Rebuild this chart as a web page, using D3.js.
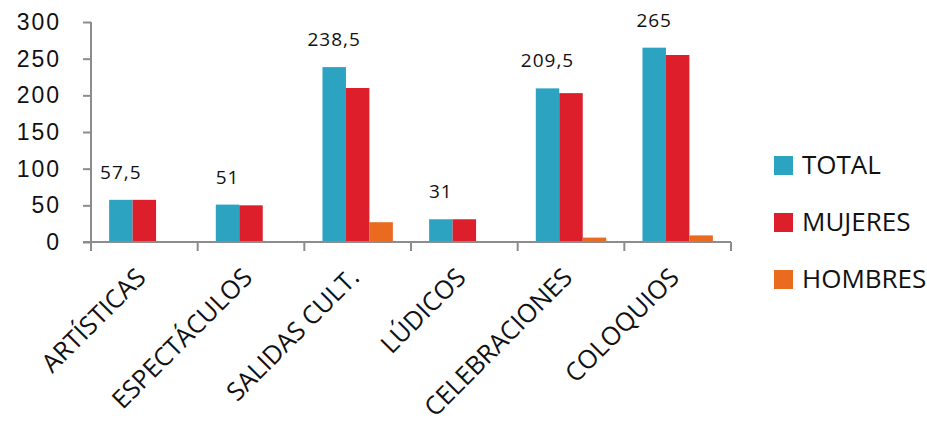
<!DOCTYPE html>
<html><head><meta charset="utf-8">
<script src="https://cdn.jsdelivr.net/npm/d3@7"></script>
<style>
body{margin:0;background:#fff;}
svg{display:block;font-family:"Open Sans",sans-serif;}
</style></head><body>
<svg id="c" width="927" height="426"></svg>
<script>
const categories = ["ARTÍSTICAS","ESPECTÁCULOS","SALIDAS CULT.","LÚDICOS","CELEBRACIONES","COLOQUIOS"];
const series = ["TOTAL","MUJERES","HOMBRES"];
const total   = [57.5, 51, 238.5, 31, 209.5, 265];
const mujeres = [57.5, 50, 210, 31, 203, 255];
const hombres = [0, 1, 27, 0, 6, 9];
const totalLabels = ["57,5","51","238,5","31","209,5","265"];
const yTicks = [0,50,100,150,200,250,300];
const colors = ["#2CA3C1","#DC1F2B","#EA6A1F"];

const values = [total, mujeres, hombres];
const svg = d3.select("#c");
const x0 = d3.scaleBand().domain(categories).range([91, 731]);
const bw = x0.bandwidth();
const x1 = d3.scaleBand().domain(series).range([bw*0.17, bw*0.83]);
const y = d3.scaleLinear().domain([0,300]).range([242, 22]);
const axisColor = "#8c8c8c";

// y axis
const yAxis = svg.append("g").attr("transform","translate(91,0)")
  .call(d3.axisLeft(y).tickValues(yTicks).tickSize(8).tickPadding(22).tickFormat(d3.format("d")));
yAxis.select(".domain").attr("stroke",axisColor).attr("stroke-width",2).attr("d","M0,22V242");
yAxis.selectAll(".tick line").attr("stroke",axisColor).attr("stroke-width",2);
yAxis.selectAll(".tick text").attr("font-size",23).attr("fill","#111").attr("letter-spacing","2px").attr("dy","0.33em");

// bars
const g = svg.append("g");
categories.forEach((c,i)=>{
  series.forEach((s,j)=>{
    const v = values[j][i];
    if (v<=0) return;
    g.append("rect")
      .attr("x", x0(c)+x1(s))
      .attr("y", y(v))
      .attr("width", x1.bandwidth())
      .attr("height", y(0)-y(v))
      .attr("fill", colors[j]);
  });
  g.append("text")
    .attr("x", x0(c)+x1("TOTAL")+x1.bandwidth()/2)
    .attr("y", y(total[i])-21)
    .attr("text-anchor","middle")
    .attr("font-size",19)
    .attr("letter-spacing","1px")
    .attr("fill","#111")
    .text(totalLabels[i]);
});

// x axis
const xAxis = svg.append("g").attr("transform","translate(0,242)");
xAxis.append("line").attr("x1",83).attr("x2",731).attr("stroke",axisColor).attr("stroke-width",2);
categories.concat([null]).forEach((c,i)=>{
  const xx = c===null ? x0.range()[1] : x0(c);
  xAxis.append("line").attr("x1",xx).attr("x2",xx).attr("y1",0).attr("y2",9).attr("stroke",axisColor).attr("stroke-width",2);
});
categories.forEach((c)=>{
  const cx = x0(c)+bw/2;
  xAxis.append("text")
    .attr("transform",`translate(${cx+3},${37}) rotate(-45)`)
    .attr("text-anchor","end")
    .attr("font-size",25.5)
    .attr("fill","#111")
    .text(c);
});

// legend
const leg = svg.append("g");
series.forEach((s,j)=>{
  const ly = 165 + j*57;
  leg.append("rect").attr("x",774).attr("y",ly-9).attr("width",19).attr("height",19).attr("fill",colors[j]);
  leg.append("text").attr("x",802).attr("y",ly).attr("dy","0.33em").attr("font-size",26).attr("fill","#111").text(s);
});
</script>
</body></html>
